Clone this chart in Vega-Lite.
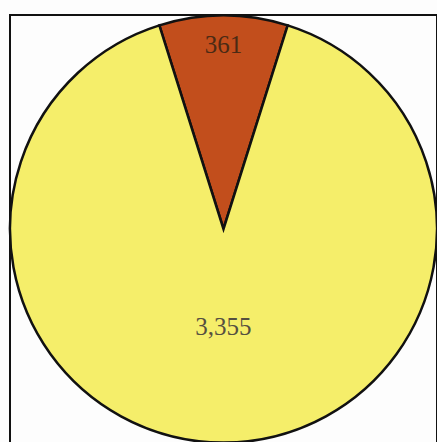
{
  "$schema": "https://vega.github.io/schema/vega-lite/v6.json",
  "width": 427,
  "height": 428,
  "padding": {"left": 10, "top": 15, "right": 0, "bottom": 0},
  "autosize": "none",
  "background": "#fdfdfd",
  "config": {"view": {"stroke": null}},
  "data": {"values": [
    {"category": "A", "value": 361, "label": "361", "order": 1},
    {"category": "B", "value": 3355, "label": "3,355", "order": 2}
  ]},
  "transform": [
    {"stack": "value", "groupby": [], "sort": [{"field": "order", "order": "ascending"}], "as": ["v0", "v1"]},
    {"calculate": "(datum.v0 + datum.v1) / 2", "as": "mid"}
  ],
  "layer": [
    {
      "mark": {"type": "rect", "fill": null, "stroke": "#111111", "strokeWidth": 2},
      "encoding": {}
    },
    {
      "mark": {"type": "arc", "stroke": "#111111", "strokeWidth": 2.5},
      "encoding": {
        "theta": {"field": "v0", "type": "quantitative", "scale": {"domain": [0, 3716], "range": [-0.305, 5.978]}},
        "theta2": {"field": "v1"},
        "color": {"field": "category", "type": "nominal", "scale": {"domain": ["A", "B"], "range": ["#c24e1c", "#f5ee6a"]}, "legend": null}
      }
    },
    {
      "mark": {"type": "text", "font": "Liberation Serif", "fontSize": 25},
      "encoding": {
        "theta": {"field": "mid", "type": "quantitative", "scale": {"domain": [0, 3716], "range": [-0.305, 5.978]}},
        "radius": {"field": "category", "type": "nominal", "scale": {"type": "ordinal", "domain": ["A", "B"], "range": [184, 98]}, "legend": null},
        "color": {"condition": {"test": "datum.category === 'A'", "value": "#4a2a14"}, "value": "#555040"},
        "text": {"field": "label"}
      }
    }
  ]
}
